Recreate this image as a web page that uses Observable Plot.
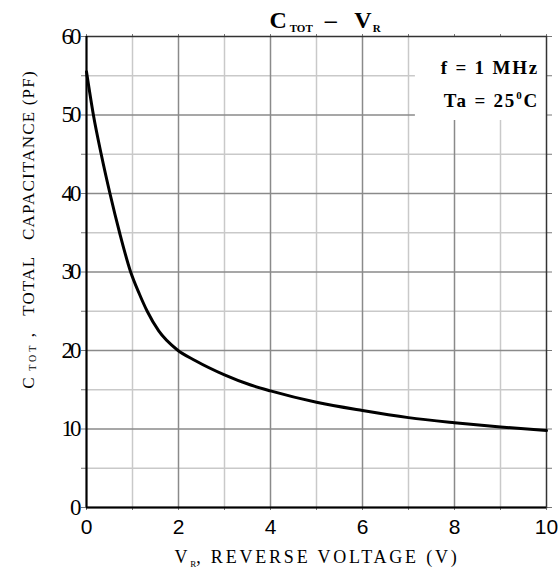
<!DOCTYPE html>
<html>
<head>
<meta charset="utf-8">
<script src="https://cdn.jsdelivr.net/npm/d3@7"></script>
<script src="https://cdn.jsdelivr.net/npm/@observablehq/plot@0.6"></script>
<style>
  html, body { margin: 0; padding: 0; background: #fff; }
</style>
</head>
<body>
<div id="chart"></div>
<script>
// ---- data ----
const voltage     = [0, 0.15, 0.32, 0.51, 0.72, 0.96, 1.15, 1.32, 1.57, 1.97, 2.37, 3.0, 3.57, 4, 5, 6, 7, 8, 9, 10];
const capacitance = [55.5, 50, 45, 40, 35, 30, 27.2, 25, 22.5, 20.1, 18.7, 16.9, 15.6, 14.85, 13.4, 12.35, 11.45, 10.8, 10.25, 9.8];

const xTickLabels = [0, 2, 4, 6, 8, 10];
const yTickLabels = [0, 10, 20, 30, 40, 50, 60];
const xGridMajor = [2, 4, 6, 8];
const xGridMinor = [1, 3, 5, 7, 9];
const yGridMajor = [10, 20, 30, 40, 50];
const yGridMinor = [5, 15, 25, 35, 45, 55];
const xAllTicks = [0, 1, 2, 3, 4, 5, 6, 7, 8, 9, 10];
const yAllTicks = [0, 5, 10, 15, 20, 25, 30, 35, 40, 45, 50, 55, 60];

const noteLines = ["f = 1 MHz", "Ta = 25"];
const noteBox = {x1: 7.15, y1: 49.3}; // lower-left corner of the legend box (data units)

const data = voltage.map((v, i) => ({v, c: capacitance[i]}));

const serif = "'Liberation Serif', 'Times New Roman', serif";
const sans = "'Liberation Sans', Arial, sans-serif";

// custom mark: white legend box with the condition text
const legendMark = (index, scales, values, dims) => {
  const g = d3.create("svg:g");
  const x0 = scales.x(noteBox.x1), x1 = scales.x(10);
  const y0 = scales.y(60), y1 = scales.y(noteBox.y1);
  g.append("rect").attr("x", x0).attr("y", y0).attr("width", x1 - x0).attr("height", y1 - y0).attr("fill", "white");
  g.append("text").attr("x", x1 - 7).attr("y", y0 + 38).attr("text-anchor", "end").attr("fill", "black")
    .attr("font-family", serif).attr("font-weight", "bold").attr("font-size", 19).attr("letter-spacing", 1.8)
    .text(noteLines[0]);
  const t2 = g.append("text").attr("x", x1 - 7).attr("y", y0 + 71).attr("text-anchor", "end").attr("fill", "black")
    .attr("font-family", serif).attr("font-weight", "bold").attr("font-size", 19).attr("letter-spacing", 1.8);
  t2.append("tspan").text(noteLines[1]);
  t2.append("tspan").attr("font-size", 11).attr("dy", -8).text("0");
  t2.append("tspan").attr("dy", 8).text("C");
  return g.node();
};

const plot = Plot.plot({
  width: 559,
  height: 575,
  marginLeft: 86,
  marginRight: 13,
  marginTop: 36,
  marginBottom: 68,
  style: {background: "white", overflow: "visible", color: "#777"},
  x: {domain: [0, 10], axis: "both", ticks: xAllTicks, tickSize: 3, tickFormat: () => "", label: null},
  y: {domain: [0, 60], axis: "both", ticks: yAllTicks, tickSize: 5, tickFormat: () => "", label: null},
  marks: [
    Plot.ruleX(xGridMinor, {stroke: "#c9c9c9", strokeWidth: 1.5}),
    Plot.ruleY(yGridMinor, {stroke: "#c9c9c9", strokeWidth: 1.5}),
    Plot.ruleX(xGridMajor, {stroke: "#8a8a8a", strokeWidth: 1.5}),
    Plot.ruleY(yGridMajor, {stroke: "#8a8a8a", strokeWidth: 1.5}),
    legendMark,
    Plot.frame({stroke: "#333", strokeWidth: 1.5}),
    Plot.ruleX([0], {stroke: "black", strokeWidth: 2}),
    Plot.ruleY([0], {stroke: "black", strokeWidth: 2}),
    Plot.line(data, {x: "v", y: "c", curve: "monotone-x", stroke: "black", strokeWidth: 3}),
    Plot.text(xTickLabels, {x: d => d, frameAnchor: "bottom", dy: 26, text: d => String(d),
      fontFamily: sans, fontSize: 21, fill: "black"}),
    Plot.text(yTickLabels, {y: d => d, frameAnchor: "left", dx: -6, textAnchor: "end", text: d => String(d),
      fontFamily: serif, fontSize: 23, fill: "black"})
  ]
});

const svg = d3.select(plot);
// condensed look of the y tick numbers
svg.selectAll("text").filter(function() {
  const g = this.parentNode;
  return g && g.getAttribute && g.getAttribute("font-size") === "23";
}).attr("letter-spacing", -3).attr("dx", -2);

// title: C_TOT – V_R
const xs = plot.scale("x"), ys = plot.scale("y");
const cx = (xs.apply(0) + xs.apply(10)) / 2;
const title = svg.append("text").attr("x", cx + 9).attr("y", 28).attr("text-anchor", "middle").attr("fill", "black")
  .attr("font-family", serif).attr("font-weight", "bold").attr("font-size", 24);
title.append("tspan").text("C");
title.append("tspan").attr("font-size", 11).attr("dy", 4).attr("dx", 3).text("TOT");
title.append("tspan").attr("dy", -4).text("  \u2013   V");
title.append("tspan").attr("font-size", 11).attr("dy", 4).attr("dx", 1).text("R");

// y-axis label
const ymid = (ys.apply(0) + ys.apply(60)) / 2 - 42;
const ylab = svg.append("text").attr("transform", `translate(34,${ymid}) rotate(-90)`).attr("text-anchor", "middle")
  .attr("fill", "black").attr("font-family", serif).attr("font-size", 17).attr("letter-spacing", 1.2);
ylab.append("tspan").text("C");
ylab.append("tspan").attr("font-size", 10).attr("dy", 2).attr("letter-spacing", 3).text(" TOT ");
ylab.append("tspan").attr("dy", -2).text(",   TOTAL   CAPACITANCE (PF)");

// x-axis label
const xlab = svg.append("text").attr("x", cx + 1).attr("y", 563).attr("text-anchor", "middle").attr("fill", "black")
  .attr("font-family", serif).attr("font-size", 18).attr("letter-spacing", 2.8);
xlab.append("tspan").text("V");
xlab.append("tspan").attr("font-size", 9).attr("dy", 4).attr("letter-spacing", 0).text("R");
xlab.append("tspan").attr("dy", -4).text(", REVERSE VOLTAGE (V)");

document.getElementById("chart").appendChild(plot);
</script>
</body>
</html>
